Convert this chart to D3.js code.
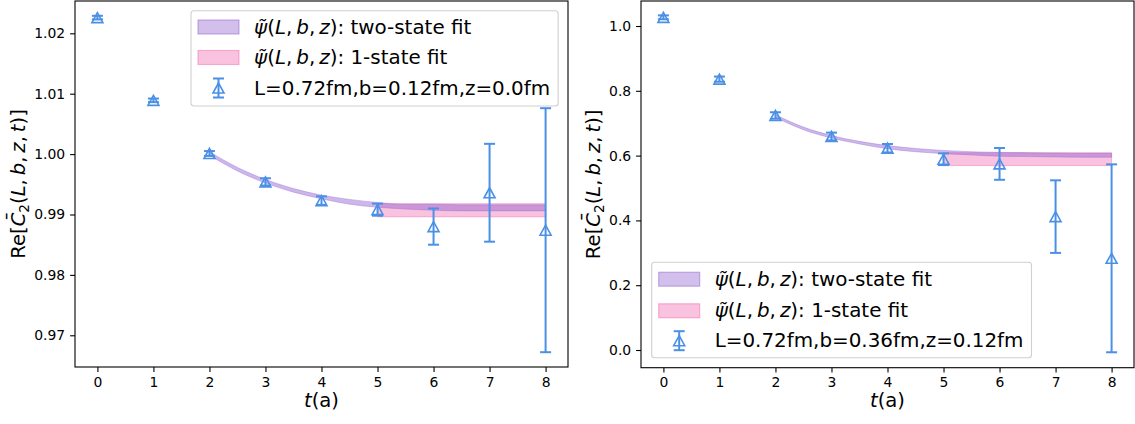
<!DOCTYPE html>
<html>
<head>
<meta charset="utf-8">
<script src="https://cdn.jsdelivr.net/npm/d3@7"></script>
<style>
  body { margin: 0; background: #fff; }
  svg { display: block; font-family: "DejaVu Sans", sans-serif; }
</style>
</head>
<body>
<svg id="chart" width="1135" height="424"></svg>
<script>
// time slices
const tVals = [0, 1, 2, 3, 4, 5, 6, 7, 8];

// left panel: L=0.72fm, b=0.12fm, z=0.0fm
const leftY   = [1.0226, 1.0089, 1.0001, 0.9954, 0.9923, 0.9908, 0.9880, 0.9936, 0.9874];
const leftErr = [0.0003, 0.0003, 0.0004, 0.0006, 0.0007, 0.0010, 0.0030, 0.0081, 0.0202];

// right panel: L=0.72fm, b=0.36fm, z=0.12fm
const rightY   = [1.0268, 0.836, 0.7238, 0.659, 0.6228, 0.5889, 0.5744, 0.4117, 0.283];
const rightErr = [0.006, 0.008, 0.010, 0.012, 0.013, 0.018, 0.049, 0.112, 0.290];

// two-state fit bands (t = 2 .. 8)
const fitT = [2, 2.5, 3, 3.5, 4, 4.5, 5, 5.5, 6, 6.5, 7, 7.5, 8];
const leftTwoMid  = [1.0001, 0.9975, 0.9955, 0.9940, 0.9929, 0.9921, 0.9916, 0.9913, 0.9912, 0.9911, 0.9911, 0.9911, 0.9911];
const leftTwoHalf = [0.0003, 0.0003, 0.0003, 0.0003, 0.0003, 0.0004, 0.0004, 0.0004, 0.0005, 0.0005, 0.0005, 0.0005, 0.0005];
const rightTwoMid  = [0.722, 0.684, 0.658, 0.640, 0.626, 0.617, 0.611, 0.607, 0.604, 0.603, 0.602, 0.601, 0.601];
const rightTwoHalf = [0.004, 0.004, 0.004, 0.004, 0.005, 0.005, 0.005, 0.005, 0.006, 0.006, 0.006, 0.006, 0.006];

// one-state fit bands (t = 5 .. 8)
const oneT = [5, 8];
const leftOne  = { mid: 0.9907, half: 0.0011 };
const rightOne = { mid: 0.589, half: 0.020 };

const yTicksLeft  = [0.97, 0.98, 0.99, 1.00, 1.01, 1.02];
const yTicksRight = [0.0, 0.2, 0.4, 0.6, 0.8, 1.0];

const labelTwo = "two-state fit";
const labelOne = "1-state fit";
const labelLeft  = "L=0.72fm,b=0.12fm,z=0.0fm";
const labelRight = "L=0.72fm,b=0.36fm,z=0.12fm";

const blue = "#4a90e6";
const purple = "#9060d0";
const pink = "#f06aae";
const legendFont = 19.9;

const svg = d3.select("#chart");

function triangle(cx, cy, r) {
	return "M" + cx + "," + (cy - r) + "L" + (cx - r * 1.1) + "," + (cy + r) + "L" + (cx + r * 1.1) + "," + (cy + r) + "Z";
}

// mathtext-like "psi~(L, b, z)" with narrower comma spacing
function mathPsi(sel) {
	sel.append("tspan").attr("font-style", "italic").text("\u03C8\u0303");
	sel.append("tspan").text("(");
	sel.append("tspan").attr("font-style", "italic").text("L");
	sel.append("tspan").text(",\u2009");
	sel.append("tspan").attr("font-style", "italic").text("b");
	sel.append("tspan").text(",\u2009");
	sel.append("tspan").attr("font-style", "italic").text("z");
}

function drawPanel(p) {
	const x = d3.scaleLinear().domain([-0.4, 8.4]).range([p.left, p.right]);
	const y = d3.scaleLinear().domain(p.yDomain).range([p.bottom, p.top]);
	const g = svg.append("g");

	// fit bands
	const area = d3.area()
		.x((d, i) => x(fitT[i]))
		.y0((d, i) => y(p.twoMid[i] - p.twoHalf[i]))
		.y1((d, i) => y(p.twoMid[i] + p.twoHalf[i]))
		.curve(d3.curveMonotoneX);

	g.append("path")
		.attr("d", d3.area()
			.x(d => x(d))
			.y0(y(p.one.mid - p.one.half))
			.y1(y(p.one.mid + p.one.half))(oneT))
		.attr("fill", pink).attr("fill-opacity", 0.4)
		.attr("stroke", pink).attr("stroke-opacity", 0.4).attr("stroke-width", 1);

	g.append("path")
		.attr("d", area(fitT))
		.attr("fill", purple).attr("fill-opacity", 0.45)
		.attr("stroke", purple).attr("stroke-opacity", 0.35).attr("stroke-width", 1);

	// error bars
	const pts = tVals.map((t, i) => ({ t: t, v: p.vals[i], e: p.errs[i] }));
	const eb = g.selectAll(".eb").data(pts).join("g");
	eb.append("line")
		.attr("x1", d => x(d.t)).attr("x2", d => x(d.t))
		.attr("y1", d => y(d.v - d.e)).attr("y2", d => y(d.v + d.e))
		.attr("stroke", blue).attr("stroke-width", 2);
	[-1, 1].forEach(s => {
		eb.append("line")
			.attr("x1", d => x(d.t) - 5.5).attr("x2", d => x(d.t) + 5.5)
			.attr("y1", d => y(d.v + s * d.e)).attr("y2", d => y(d.v + s * d.e))
			.attr("stroke", blue).attr("stroke-width", 2);
	});
	eb.append("path")
		.attr("d", d => triangle(x(d.t), y(d.v), 5))
		.attr("fill", "none").attr("stroke", blue).attr("stroke-width", 1.6);

	// axes
	const xAxis = d3.axisBottom(x).tickValues(tVals).tickFormat(d3.format("d"))
		.tickSize(4.9).tickPadding(4.9);
	const yAxis = d3.axisLeft(y).tickValues(p.yTicks).tickFormat(d3.format(p.fmt))
		.tickSize(4.9).tickPadding(4.9);

	const gx = g.append("g").attr("transform", "translate(0," + p.bottom + ")").call(xAxis);
	const gy = g.append("g").attr("transform", "translate(" + p.left + ",0)").call(yAxis);
	[gx, gy].forEach(a => {
		a.select(".domain").remove();
		a.selectAll("line").attr("stroke", "#000").attr("stroke-width", 1.1);
		a.selectAll("text").attr("font-size", 13.9).attr("fill", "#000")
			.attr("font-family", "DejaVu Sans");
	});

	g.append("rect")
		.attr("x", p.left).attr("y", p.top)
		.attr("width", p.right - p.left).attr("height", p.bottom - p.top)
		.attr("fill", "none").attr("stroke", "#000").attr("stroke-width", 1.1);

	// x label
	const xl = g.append("text")
		.attr("x", (p.left + p.right) / 2).attr("y", 407)
		.attr("text-anchor", "middle").attr("font-size", 19.6);
	xl.append("tspan").attr("font-style", "italic").text("t");
	xl.append("tspan").text("(a)");

	// y label
	const yl = g.append("text")
		.attr("transform", "translate(" + p.ylabelX + "," + ((p.top + p.bottom) / 2) + ") rotate(-90)")
		.attr("text-anchor", "middle").attr("font-size", 19.6);
	yl.append("tspan").text("Re[");
	yl.append("tspan").attr("font-style", "italic").text("C\u0304");
	yl.append("tspan").attr("font-size", 13.7).attr("dy", 4).text("2");
	yl.append("tspan").attr("dy", -4).text("(");
	yl.append("tspan").attr("font-style", "italic").text("L");
	yl.append("tspan").text(",\u2009");
	yl.append("tspan").attr("font-style", "italic").text("b");
	yl.append("tspan").text(",\u2009");
	yl.append("tspan").attr("font-style", "italic").text("z");
	yl.append("tspan").text(",\u2009");
	yl.append("tspan").attr("font-style", "italic").text("t");
	yl.append("tspan").text(")]");

	// legend
	const lg = g.append("g");
	const box = lg.append("rect")
		.attr("x", p.leg.x).attr("y", p.leg.y).attr("height", p.leg.h)
		.attr("rx", 3).attr("fill", "#fff").attr("fill-opacity", 0.8)
		.attr("stroke", "#d0d0d0").attr("stroke-width", 1.1);

	const rows = [
		{ kind: "band", color: purple, op: 0.4, text: labelTwo },
		{ kind: "band", color: pink, op: 0.4, text: labelOne },
		{ kind: "err", text: p.label }
	];
	let maxEnd = 0;
	rows.forEach((r, i) => {
		const cy = p.leg.rowY[i];
		const hx = p.leg.x + 7;
		if (r.kind === "band") {
			lg.append("rect").attr("x", hx).attr("y", cy - 7).attr("width", 41).attr("height", 14)
				.attr("fill", r.color).attr("fill-opacity", r.op)
				.attr("stroke", r.color).attr("stroke-opacity", 0.5).attr("stroke-width", 1.1);
		} else {
			const cx = hx + 20.5;
			lg.append("line").attr("x1", cx).attr("x2", cx).attr("y1", cy - 9.5).attr("y2", cy + 9.5)
				.attr("stroke", blue).attr("stroke-width", 2);
			[-9.5, 9.5].forEach(o => lg.append("line")
				.attr("x1", cx - 5.5).attr("x2", cx + 5.5).attr("y1", cy + o).attr("y2", cy + o)
				.attr("stroke", blue).attr("stroke-width", 2));
			lg.append("path").attr("d", triangle(cx, cy, 5))
				.attr("fill", "none").attr("stroke", blue).attr("stroke-width", 1.6);
		}
		const tx = lg.append("text").attr("x", p.leg.x + 63).attr("y", cy + 6.5).attr("font-size", legendFont);
		if (r.kind === "band") {
			mathPsi(tx);
			tx.append("tspan").text("): " + r.text);
		} else {
			tx.text(r.text);
		}
		maxEnd = Math.max(maxEnd, p.leg.x + 63 + tx.node().getComputedTextLength());
	});
	box.attr("width", maxEnd + 8 - p.leg.x);
}

drawPanel({
	left: 75, right: 568, top: 1, bottom: 367,
	yDomain: [0.96475, 1.02535], yTicks: yTicksLeft, fmt: ".2f",
	vals: leftY, errs: leftErr,
	twoMid: leftTwoMid, twoHalf: leftTwoHalf, one: leftOne,
	ylabelX: 25, label: labelLeft,
	leg: { x: 191, y: 10.7, h: 95.3, rowY: [27, 57.5, 88] }
});

drawPanel({
	left: 641, right: 1134, top: 1, bottom: 367.7,
	yDomain: [-0.0546, 1.0772], yTicks: yTicksRight, fmt: ".1f",
	vals: rightY, errs: rightErr,
	twoMid: rightTwoMid, twoHalf: rightTwoHalf, one: rightOne,
	ylabelX: 600, label: labelRight,
	leg: { x: 651.7, y: 262.3, h: 95.4, rowY: [279.2, 310.8, 340.7] }
});
</script>
</body>
</html>
